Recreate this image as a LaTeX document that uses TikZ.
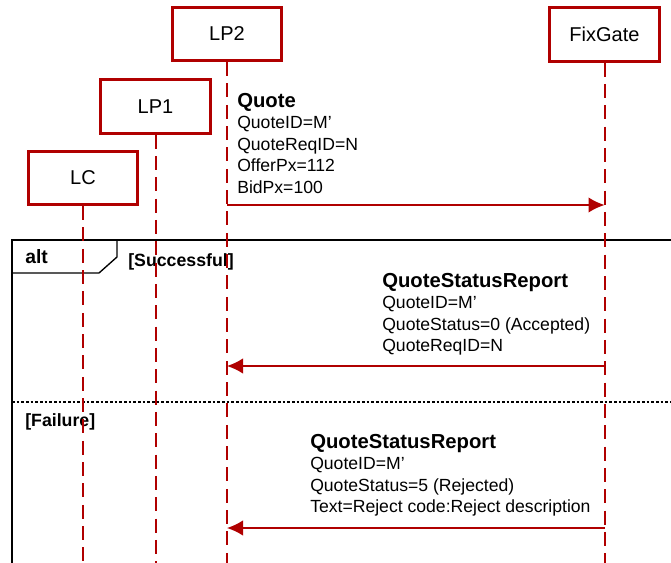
\documentclass[tikz,border=0pt]{standalone}
\usepackage{fontspec}
\setmainfont{Liberation Sans}
\usepackage{tikz}
\usetikzlibrary{arrows.meta}
\definecolor{lpred}{RGB}{176,0,0}

\begin{document}
\begin{tikzpicture}[x=0.75pt,y=-0.75pt,
  party/.style={draw=lpred,line width=2.2pt,fill=white,minimum width=82pt,minimum height=40pt,font=\fontsize{15}{18}\selectfont},
  lifeline/.style={draw=lpred,line width=1.5pt,dash pattern=on 10.5pt off 5.5pt},
  msg/.style={draw=lpred,line width=1pt,-{Latex[length=12pt,width=11.5pt]}},
  msgtext/.style={anchor=north west,inner sep=0pt,align=left,font=\fontsize{13.2}{16.1}\selectfont},
  guard/.style={anchor=west,inner sep=0pt,font=\fontsize{13.3}{16}\selectfont\bfseries}]
\clip (0,0) rectangle (671,563);

% alt frame
\draw[line width=2pt] (690,240) -- (12,240) -- (12,590);
\draw[line width=1pt] (12,273) -- (99,273) -- (117,257) -- (117,240);
\draw[line width=0.9pt,dash pattern=on 2pt off 1.5pt] (12,402) -- (690,402);
\node[guard,font=\fontsize{14.5}{16}\selectfont\bfseries] (alt) at (25,257) {alt};
\node[guard] (succ) at (128,262) {[Successful]};
\node[guard] (fail) at (25,422) {[Failure]};

% parties
\node[party] (lp2) at (227,34) {LP2};
\node[party] (lp1) at (155.5,106.5) {LP1};
\node[party] (lc) at (83,178) {LC};
\node[party] (fixgate) at (604.5,34.5) {FixGate};

\coordinate (bot) at (0,600);
\draw[lifeline] (lc.south) -- (lc.south |- bot);
\draw[lifeline] (lp1.south) -- (lp1.south |- bot);
\draw[lifeline] (lp2.south) -- (lp2.south |- bot);
\draw[lifeline] (fixgate.south) -- (fixgate.south |- bot);

% messages
\coordinate (m1) at (0,205);
\coordinate (m2) at (0,366);
\coordinate (m3) at (0,528);

\node[msgtext] (quote) at (237,93) {{\fontsize{15.2}{16.1}\selectfont\bfseries Quote}\\QuoteID=M’\\QuoteReqID=N\\OfferPx=112\\BidPx=100};
\draw[msg] (lp2 |- m1) -- (fixgate |- m1);

\node[msgtext] (qsr1) at (382,273) {{\fontsize{15.2}{16.1}\selectfont\bfseries QuoteStatusReport}\\QuoteID=M’\\QuoteStatus=0 (Accepted)\\QuoteReqID=N};
\draw[msg] (fixgate |- m2) -- (lp2 |- m2);

\node[msgtext] (qsr2) at (310,434) {{\fontsize{15.2}{16.1}\selectfont\bfseries QuoteStatusReport}\\QuoteID=M’\\QuoteStatus=5 (Rejected)\\Text=Reject code:Reject description};
\draw[msg] (fixgate |- m3) -- (lp2 |- m3);

\end{tikzpicture}
\end{document}
